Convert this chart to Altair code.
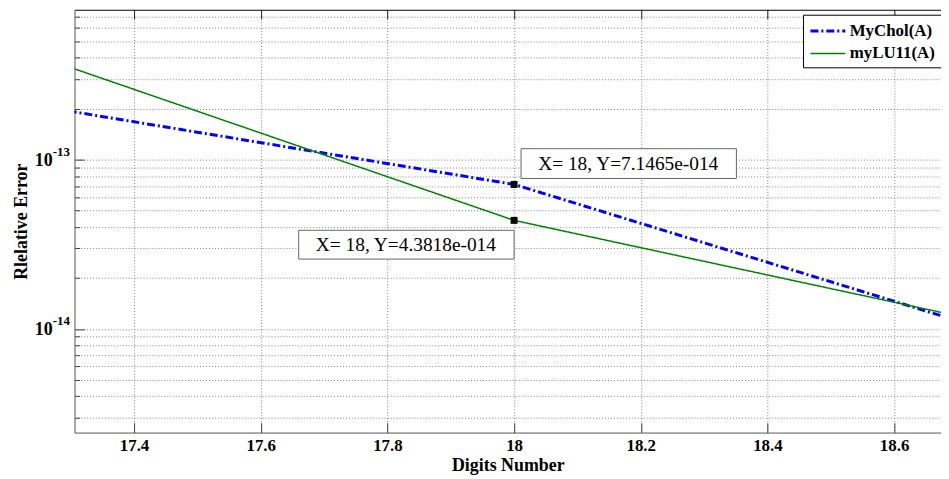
import altair as alt
import pandas as pd

# ---------------- data ----------------
x_digits = [17, 18, 19]
mychol = [2.96e-13, 7.1465e-14, 5.05e-15]
mylu11 = [8.55e-13, 4.3818e-14, 6.84e-15]
series_names = ["MyChol(A)", "myLU11(A)"]
series_colors = ["#0000ff", "#008000"]
series_dash = [[8, 3, 2, 3], [1, 0]]
series_width = [3, 1.5]

x_ticks = [17.4, 17.6, 17.8, 18.0, 18.2, 18.4, 18.6]
y_major = [1e-14, 1e-13]
y_major_base = ["10", "10"]
y_major_exp = ["-14", "-13"]
y_minor = [3e-15, 4e-15, 5e-15, 6e-15, 7e-15, 8e-15, 9e-15,
           2e-14, 3e-14, 4e-14, 5e-14, 6e-14, 7e-14, 8e-14, 9e-14,
           2e-13, 3e-13, 4e-13, 5e-13, 6e-13, 7e-13]
y_grid = sorted(y_minor + y_major)

x_domain = [17.306, 18.674]
y_domain = [2.44e-15, 7.70e-13]

tip_x = 18
tip_labels = ["X= 18, Y=7.1465e-014", "X= 18, Y=4.3818e-014"]

# ---------------- tables ----------------
df = pd.DataFrame({
    "x": x_digits + x_digits,
    "y": mychol + mylu11,
    "series": [series_names[0]] * len(x_digits) + [series_names[1]] * len(x_digits),
})
tip1 = pd.DataFrame({"x": [tip_x], "y": [mychol[x_digits.index(tip_x)]], "label": [tip_labels[0]]})
tip2 = pd.DataFrame({"x": [tip_x], "y": [mylu11[x_digits.index(tip_x)]], "label": [tip_labels[1]]})
tips = pd.concat([tip1, tip2], ignore_index=True)
ylab = pd.DataFrame({"x": [x_domain[0]] * len(y_major), "y": y_major,
                     "base": y_major_base, "exp": y_major_exp})

FONT = "Liberation Serif, Times New Roman, serif"
xscale = alt.Scale(domain=x_domain, nice=False, zero=False)
yscale = alt.Scale(type="log", domain=y_domain, nice=False)

legend = alt.Legend(
    title=None, orient="none", legendX=734, legendY=5,
    fillColor="white", strokeColor="black", padding=6, rowPadding=4,
    labelFont=FONT, labelFontWeight="bold", labelFontSize=17, labelColor="black",
    symbolType="M-1,0H2.9", symbolSize=324, labelOffset=20, labelLimit=300,
)

main_x_axis = alt.Axis(
    orient="bottom", values=x_ticks, format="~g",
    grid=True, gridDash=[1, 2], gridColor="#808080", gridOpacity=1, gridWidth=1,
    ticks=False, tickSize=0, domain=True, domainColor="#555555", domainWidth=1,
    labelFont=FONT, labelFontWeight="bold", labelFontSize=17, labelColor="black",
    labelPadding=5,
    title="Digits Number", titleFont=FONT, titleFontWeight="bold", titleFontSize=18,
    titleColor="black", titlePadding=3,
)
main_y_axis = alt.Axis(
    orient="left", values=y_grid,
    grid=True, gridDash=[1, 2], gridColor="#808080", gridOpacity=1, gridWidth=1,
    ticks=False, tickSize=0, labels=False, domain=True, domainColor="#555555", domainWidth=1,
    title="Rlelative Error", titleFont=FONT, titleFontWeight="bold", titleFontSize=18,
    titleColor="black", titlePadding=44,
)

lines = alt.Chart(df).mark_line(clip=True).encode(
    x=alt.X("x:Q", scale=xscale, axis=main_x_axis),
    y=alt.Y("y:Q", scale=yscale, axis=main_y_axis),
    color=alt.Color("series:N", scale=alt.Scale(domain=series_names, range=series_colors), legend=legend),
    strokeDash=alt.StrokeDash("series:N", scale=alt.Scale(domain=series_names, range=series_dash), legend=legend),
    strokeWidth=alt.StrokeWidth("series:N", scale=alt.Scale(type="point", domain=series_names, range=series_width), legend=legend),
)

def tick_axis(orient, values, size, color="#444444"):
    return alt.Axis(orient=orient, values=values, offset=-size, ticks=True, tickSize=size,
                    tickColor=color, tickWidth=1, domain=False, labels=False, grid=False, title=None)

box1 = alt.Chart(tip1).mark_rect(
    fill="white", stroke="#666666", strokeWidth=1,
    xOffset=7, x2Offset=224, yOffset=-36, y2Offset=-6,
).encode(
    x=alt.X("x:Q", scale=xscale, axis=tick_axis("bottom", x_ticks, 10)), x2="x:Q",
    y=alt.Y("y:Q", scale=yscale, axis=tick_axis("left", y_major, 10)), y2="y:Q",
)
box2 = alt.Chart(tip2).mark_rect(
    fill="white", stroke="#666666", strokeWidth=1,
    xOffset=-217, x2Offset=0, yOffset=10, y2Offset=39,
).encode(
    x=alt.X("x:Q", scale=xscale, axis=tick_axis("top", x_ticks, 9, "#222222")), x2="x:Q",
    y=alt.Y("y:Q", scale=yscale, axis=tick_axis("left", y_minor, 5)), y2="y:Q",
)
text1 = alt.Chart(tip1).mark_text(
    font=FONT, fontSize=19.5, color="black", align="center", baseline="middle", dx=115, dy=-21,
).encode(
    x=alt.X("x:Q", scale=xscale, axis=alt.Axis(orient="top", domain=True, domainColor="black",
                                               ticks=False, labels=False, grid=False, title=None)),
    y=alt.Y("y:Q", scale=yscale, axis=None),
    text="label:N",
)
text2 = alt.Chart(tip2).mark_text(
    font=FONT, fontSize=19.5, color="black", align="center", baseline="middle", dx=-109, dy=25,
).encode(
    x=alt.X("x:Q", scale=xscale, axis=None),
    y=alt.Y("y:Q", scale=yscale, axis=None),
    text="label:N",
)
markers = alt.Chart(tips).mark_square(size=49, color="black", opacity=1, filled=True).encode(
    x=alt.X("x:Q", scale=xscale, axis=None),
    y=alt.Y("y:Q", scale=yscale, axis=None),
)
ybase = alt.Chart(ylab).mark_text(
    font=FONT, fontSize=18, fontWeight="bold", color="black",
    align="right", baseline="alphabetic", dx=-22, dy=6,
).encode(
    x=alt.X("x:Q", scale=xscale, axis=None),
    y=alt.Y("y:Q", scale=yscale, axis=None),
    text="base:N",
)
yexp = alt.Chart(ylab).mark_text(
    font=FONT, fontSize=13, fontWeight="bold", color="black",
    align="left", baseline="alphabetic", dx=-22, dy=-4,
).encode(
    x=alt.X("x:Q", scale=xscale, axis=None),
    y=alt.Y("y:Q", scale=yscale, axis=None),
    text="exp:N",
)

chart = alt.layer(
    lines, box1, box2, text1, text2, markers, ybase, yexp
).resolve_axis(
    x="independent", y="independent"
).properties(
    width=873, height=426,
    autosize=alt.AutoSizeParams(type="none"),
    padding={"left": 67, "top": 0, "right": 0, "bottom": 45},
    background="white",
).configure_view(stroke=None)

chart.save("out.html", embed_options={"renderer": "svg", "actions": False})
